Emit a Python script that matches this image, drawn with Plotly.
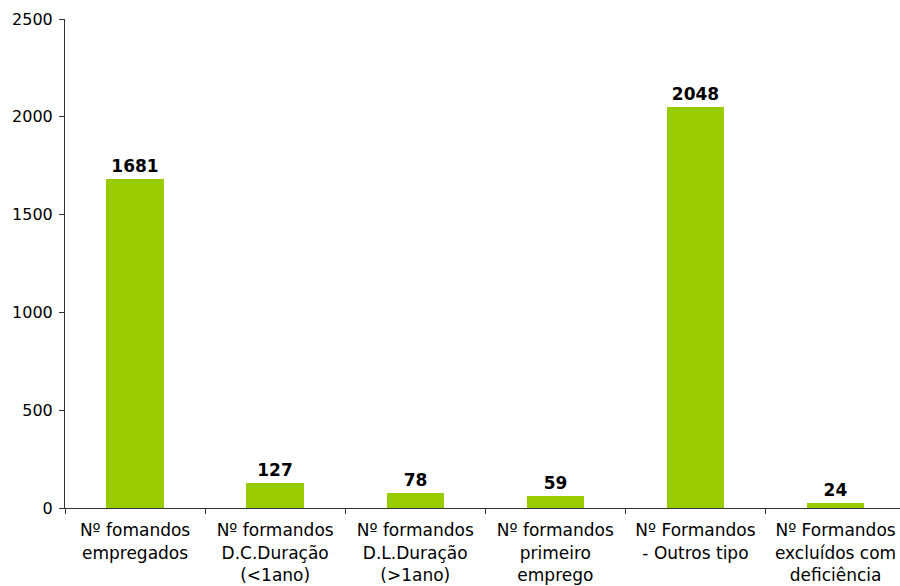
import plotly.graph_objects as go

categories = [
    "Nº fomandos empregados",
    "Nº formandos D.C.Duração (<1ano)",
    "Nº formandos D.L.Duração (>1ano)",
    "Nº formandos primeiro emprego",
    "Nº Formandos - Outros tipo",
    "Nº Formandos excluídos com deficiência",
]
tick_labels = [
    "Nº fomandos<br>empregados",
    "Nº formandos<br>D.C.Duração<br>(&lt;1ano)",
    "Nº formandos<br>D.L.Duração<br>(&gt;1ano)",
    "Nº formandos<br>primeiro<br>emprego",
    "Nº Formandos<br>- Outros tipo",
    "Nº Formandos<br>excluídos com<br>deficiência",
]
values = [1681, 127, 78, 59, 2048, 24]
y_ticks = [0, 500, 1000, 1500, 2000, 2500]

fig = go.Figure(go.Bar(
    x=categories,
    y=values,
    marker=dict(color="#99CC00", line=dict(width=0)),
    width=0.41,
    text=[str(v) for v in values],
    textposition="outside",
    textfont=dict(family="DejaVu Sans", size=17, color="#000000", weight="bold"),
    cliponaxis=False,
))

fig.update_layout(
    width=900, height=586,
    margin=dict(l=65, r=0, t=19, b=78),
    paper_bgcolor="white", plot_bgcolor="white",
    font=dict(family="DejaVu Sans", size=16, color="#000000"),
    showlegend=False,
    bargap=0,
)
fig.update_xaxes(
    type="category",
    tickvals=categories, ticktext=tick_labels,
    tickson="boundaries", ticks="outside", ticklen=5, tickcolor="#333333",
    showline=True, linecolor="#333333", linewidth=1,
    showgrid=False, automargin=False, tickangle=0,
    range=[-0.5, 5.46],
    tickfont=dict(size=17),
    ticklabelstandoff=7,
)
fig.update_yaxes(
    range=[0, 2500], tickvals=y_ticks,
    ticks="outside", ticklen=5, tickcolor="#333333",
    showline=True, linecolor="#333333", linewidth=1,
    showgrid=False, zeroline=False, automargin=False,
    tickfont=dict(size=16),
    ticklabelstandoff=3,
)

fig.write_html(
    "out.html",
    config={"displayModeBar": False},
    post_script="document.body.style.margin='0';document.body.style.overflow='hidden';",
)
